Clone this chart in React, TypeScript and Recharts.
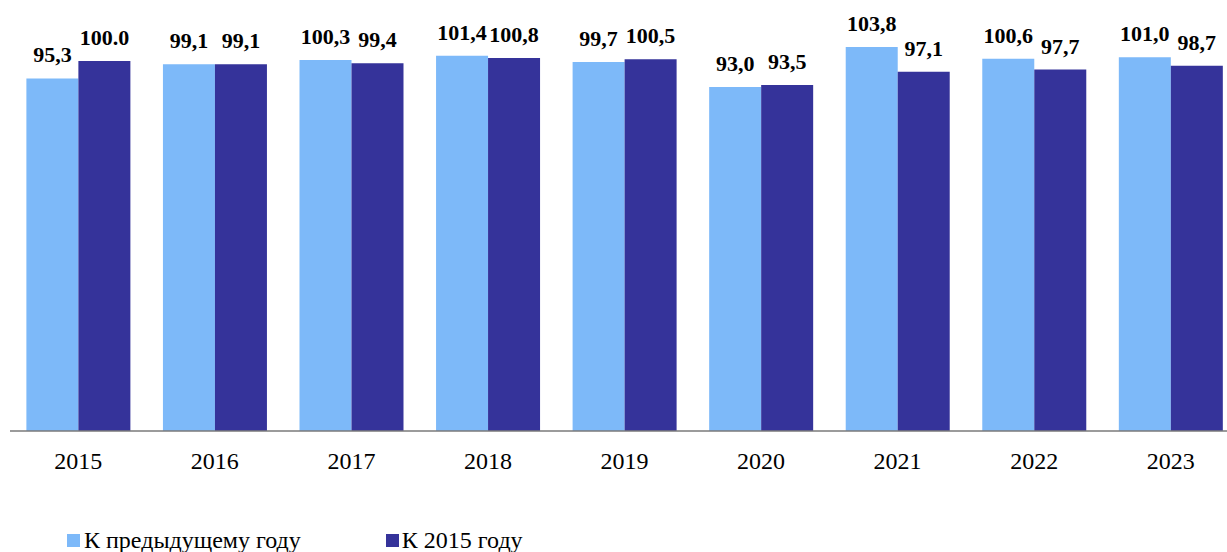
import React from "react";
import { BarChart, Bar, XAxis, YAxis, LabelList } from "recharts";

const years = ["2015", "2016", "2017", "2018", "2019", "2020", "2021", "2022", "2023"];
const prevYear = [95.3, 99.1, 100.3, 101.4, 99.7, 93.0, 103.8, 100.6, 101.0];
const vs2015 = [100.0, 99.1, 99.4, 100.8, 100.5, 93.5, 97.1, 97.7, 98.7];
const prevYearLabels = ["95,3", "99,1", "100,3", "101,4", "99,7", "93,0", "103,8", "100,6", "101,0"];
const vs2015Labels = ["100.0", "99,1", "99,4", "100,8", "100,5", "93,5", "97,1", "97,7", "98,7"];

const LIGHT = "#7db9f9";
const DARK = "#35339a";
const FONT = "Liberation Serif";

const data = years.map((year, i) => ({
  year,
  prev: prevYear[i],
  base: vs2015[i],
  prevLabel: prevYearLabels[i],
  baseLabel: vs2015Labels[i],
}));

const labelStyle = { fontFamily: FONT, fontSize: 22, fontWeight: 700, fill: "#000" };

export default function App() {
  return (
    <div
      style={{
        position: "absolute",
        left: 0,
        top: 0,
        width: 1227,
        height: 552,
        overflow: "hidden",
        background: "#fff",
        fontFamily: FONT,
      }}
    >
      <BarChart
        width={1240}
        height={552}
        data={data}
        margin={{ top: 24, right: 1, left: 10, bottom: 61 }}
        barCategoryGap="12%"
        barGap={0}
      >
        <XAxis
          dataKey="year"
          height={60}
          tickLine={false}
          tickMargin={15}
          axisLine={{ stroke: "#7a7a7a", strokeWidth: 1.5 }}
          tick={{ fontFamily: FONT, fontSize: 24, fill: "#000" }}
        />
        <YAxis hide domain={[0, 110]} />
        <Bar dataKey="prev" fill={LIGHT} isAnimationActive={false}>
          <LabelList dataKey="prevLabel" position="top" offset={16} style={labelStyle} />
        </Bar>
        <Bar dataKey="base" fill={DARK} isAnimationActive={false}>
          <LabelList dataKey="baseLabel" position="top" offset={16} style={labelStyle} />
        </Bar>
      </BarChart>
      <div
        style={{
          position: "absolute",
          left: 67,
          top: 527,
          display: "flex",
          alignItems: "center",
          fontSize: 24,
          color: "#000",
          lineHeight: "26px",
        }}
      >
        <span style={{ width: 13, height: 13, background: LIGHT, display: "inline-block", marginRight: 4 }} />
        <span>К предыдущему году</span>
        <span style={{ width: 13, height: 13, background: DARK, display: "inline-block", marginLeft: 85, marginRight: 3 }} />
        <span>К 2015 году</span>
      </div>
    </div>
  );
}
